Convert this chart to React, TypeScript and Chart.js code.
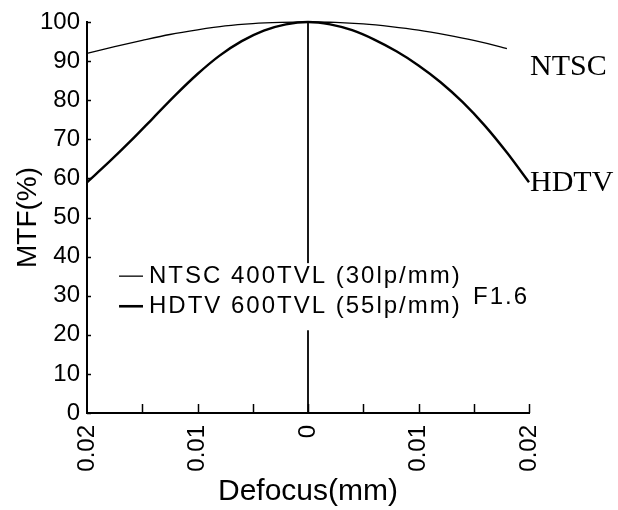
import React, { useEffect, useRef } from 'react';
import { Chart, registerables } from 'chart.js';

Chart.register(...registerables);

// ---- data ----
const ntscDefocus = [-0.02, -0.0175, -0.015, -0.0125, -0.01, -0.0075, -0.005, -0.0025, 0, 0.0025, 0.005, 0.0075, 0.01, 0.0125, 0.015, 0.0175, 0.018];
const ntscMtf = [92.0, 93.7, 95.3, 96.8, 98.0, 99.0, 99.6, 99.9, 100, 99.9, 99.5, 98.8, 97.9, 96.7, 95.3, 93.6, 93.2];

const hdtvDefocus = [-0.02, -0.018, -0.016, -0.014, -0.012, -0.01, -0.008, -0.006, -0.004, -0.002, 0, 0.002, 0.004, 0.006, 0.008, 0.01, 0.012, 0.014, 0.016, 0.018, 0.02];
const hdtvMtf = [59, 64.2, 69.7, 75.5, 81.3, 86.7, 91.4, 95.1, 97.8, 99.4, 100, 99.4, 97.9, 95.5, 92.5, 88.9, 84.6, 79.5, 73.5, 66.6, 59.0];

const focusDefocus = [0, 0];
const focusMtf = [0, 100];

const yTickValues = [0, 10, 20, 30, 40, 50, 60, 70, 80, 90, 100];
const xLabelTicks = [-0.02, -0.01, 0, 0.01, 0.02];
const xMinorTicks = [-0.015, -0.005, 0.005, 0.015];

const legendLines = ['NTSC 400TVL (30lp/mm)', 'HDTV 600TVL (55lp/mm)'];
const legendRowMtf = [35.0, 27.3];
const legendLineWidths = [1.3, 2.6];
const legendDash = { start: -0.0171, end: -0.01493, text: -0.01439 };
const apertureLabel = { text: 'F1.6', x: 0.01493, y: 29.5 };
const seriesEndLabels = [
  { text: 'NTSC', x: 0.02, y: 88.5 },
  { text: 'HDTV', x: 0.02, y: 58.8 },
];

const SANS = '"Liberation Sans", Arial, Helvetica, sans-serif';
const SERIF = '"Liberation Serif", "Times New Roman", serif';

const toPts = (xs: number[], ys: number[]) => xs.map((x, i) => ({ x, y: ys[i] }));

const inwardTicks = {
  id: 'inwardTicks',
  afterDraw(chart: any) {
    const { ctx, chartArea, scales } = chart;
    const x = scales.x;
    const y = scales.y;
    ctx.save();
    ctx.strokeStyle = '#000';
    ctx.lineWidth = 1.5;
    [...xLabelTicks, ...xMinorTicks].forEach((v) => {
      if (v === x.min) return;
      const px = Math.round(x.getPixelForValue(v)) + 0.5;
      ctx.beginPath();
      ctx.moveTo(px, chartArea.bottom);
      ctx.lineTo(px, chartArea.bottom - 9);
      ctx.stroke();
    });
    yTickValues.forEach((v) => {
      const py = Math.round(y.getPixelForValue(v)) + 0.5;
      ctx.beginPath();
      ctx.moveTo(chartArea.left, py);
      ctx.lineTo(chartArea.left + 4, py);
      ctx.stroke();
    });
    ctx.restore();
  },
};

const annotations = {
  id: 'annotations',
  afterDatasetsDraw(chart: any) {
    const { ctx, scales } = chart;
    const x = scales.x;
    const y = scales.y;
    ctx.save();
    // legend block
    ctx.font = `24px ${SANS}`;
    (ctx as any).letterSpacing = '2px';
    const textX = x.getPixelForValue(legendDash.text);
    const widths = legendLines.map((t) => ctx.measureText(t).width);
    const maxW = Math.max(...widths);
    const row0 = y.getPixelForValue(legendRowMtf[0]);
    const row1 = y.getPixelForValue(legendRowMtf[1]);
    ctx.fillStyle = '#fff';
    ctx.fillRect(textX - 4, row0 - 13, maxW + 8, row1 + 24 - (row0 - 13));
    ctx.fillStyle = '#000';
    ctx.textBaseline = 'middle';
    ctx.textAlign = 'left';
    legendLines.forEach((t, i) => {
      const py = y.getPixelForValue(legendRowMtf[i]);
      ctx.fillText(t, textX, py);
      ctx.beginPath();
      ctx.strokeStyle = '#000';
      ctx.lineWidth = legendLineWidths[i];
      ctx.moveTo(x.getPixelForValue(legendDash.start), py);
      ctx.lineTo(x.getPixelForValue(legendDash.end), py);
      ctx.stroke();
    });
    ctx.fillText(apertureLabel.text, x.getPixelForValue(apertureLabel.x), y.getPixelForValue(apertureLabel.y));
    (ctx as any).letterSpacing = '0px';
    // series end labels
    ctx.font = `30px ${SERIF}`;
    seriesEndLabels.forEach((l) => {
      ctx.fillText(l.text, x.getPixelForValue(l.x) + 1, y.getPixelForValue(l.y));
    });
    ctx.restore();
  },
};

export default function App() {
  const ref = useRef<HTMLCanvasElement | null>(null);
  useEffect(() => {
    document.body.style.margin = '0';
    const canvas = ref.current;
    if (!canvas) return;
    const chart = new Chart(canvas, {
      type: 'line',
      data: {
        datasets: [
          {
            label: 'focus',
            data: toPts(focusDefocus, focusMtf),
            borderColor: '#000',
            borderWidth: 1.8,
            pointRadius: 0,
            clip: false as any,
          },
          {
            label: 'NTSC 400TVL (30lp/mm)',
            data: toPts(ntscDefocus, ntscMtf),
            borderColor: '#000',
            borderWidth: 1.3,
            pointRadius: 0,
            cubicInterpolationMode: 'monotone',
            clip: false as any,
          },
          {
            label: 'HDTV 600TVL (55lp/mm)',
            data: toPts(hdtvDefocus, hdtvMtf),
            borderColor: '#000',
            borderWidth: 2.4,
            pointRadius: 0,
            cubicInterpolationMode: 'monotone',
            clip: false as any,
          },
        ],
      },
      options: {
        animation: false,
        responsive: false,
        layout: { padding: { top: 22, right: 89, bottom: 0, left: 0 } },
        plugins: { legend: { display: false }, tooltip: { enabled: false } },
        scales: {
          x: {
            type: 'linear',
            min: -0.02,
            max: 0.02,
            afterBuildTicks: (s: any) => {
              s.ticks = xLabelTicks.map((v) => ({ value: v }));
            },
            afterFit: (s: any) => {
              s.height = 97;
            },
            grid: { display: false, drawTicks: false },
            border: { display: true, color: '#000', width: 2 },
            ticks: {
              autoSkip: false,
              minRotation: 90,
              maxRotation: 90,
              padding: 12,
              color: '#000',
              font: { family: SANS, size: 24 },
              callback: (v: any) => (Number(v) === 0 ? '0' : Math.abs(Number(v)).toFixed(2)),
            },
            title: {
              display: true,
              text: 'Defocus(mm)',
              color: '#000',
              font: { family: SANS, size: 30 },
              padding: { top: 0, bottom: 0 },
            },
          },
          y: {
            type: 'linear',
            min: 0,
            max: 100,
            afterBuildTicks: (s: any) => {
              s.ticks = yTickValues.map((v) => ({ value: v }));
            },
            afterFit: (s: any) => {
              s.width = 87;
            },
            grid: { display: false, drawTicks: false },
            border: { display: true, color: '#000', width: 2 },
            ticks: {
              padding: 7,
              color: '#000',
              font: { family: SANS, size: 24 },
            },
            title: {
              display: true,
              text: 'MTF(%)',
              color: '#000',
              font: { family: SANS, size: 28 },
              padding: { top: 11, bottom: 0 },
            },
          },
        },
      },
      plugins: [inwardTicks, annotations],
    });
    return () => chart.destroy();
  }, []);
  return <canvas ref={ref} width={618} height={510} style={{ display: 'block' }} />;
}
